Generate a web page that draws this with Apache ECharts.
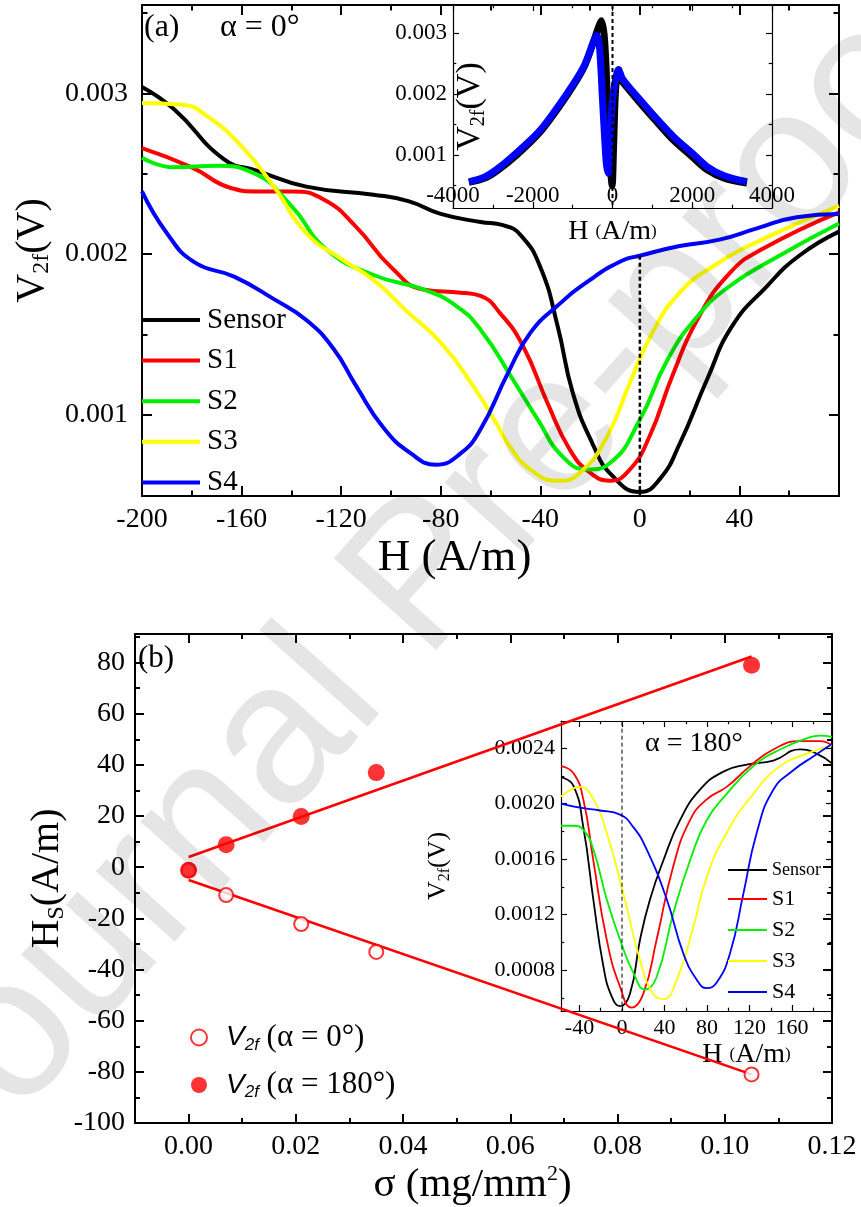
<!DOCTYPE html>
<html><head><meta charset="utf-8">
<script src="https://cdn.jsdelivr.net/npm/echarts@6/dist/echarts.min.js"></script>
<style>html,body{margin:0;padding:0;background:#fff}#c{width:861px;height:1207px}</style>
</head><body><div id="c"></div>
<script>
// ---------- Panel (a): alpha = 0 deg, V2f vs H (A/m) ----------
const sensorA = [[-200,0.00304],[-187,0.0029],[-167,0.00259],[-154,0.00252],[-134,0.00242],[-107,0.00237],[-93,0.00233],[-80,0.00225],[-64,0.0022],[-55,0.00218],[-48,0.00212],[-40,0.00192],[-33,0.00155],[-27,0.00114],[-19,0.00082],[-11,0.00062],[0,0.00052],[8,0.0006],[16,0.00082],[27,0.00122],[37,0.00155],[51,0.0018],[64,0.00199],[80,0.00214]];
const s1A = [[-200,0.00266],[-180,0.00254],[-164,0.00241],[-154,0.00239],[-140,0.00239],[-127,0.00234],[-114,0.00217],[-100,0.00192],[-87,0.00178],[-72,0.00176],[-64,0.00174],[-56,0.00163],[-47,0.00143],[-37,0.00107],[-28,0.00078],[-20,0.00064],[-12,0.00059],[-4,0.00066],[4,0.00087],[13,0.00124],[23,0.00159],[36,0.00188],[49,0.00203],[80,0.00226]];
const s2A = [[-200,0.0026],[-187,0.00254],[-170,0.00255],[-156,0.00251],[-140,0.0023],[-126,0.00203],[-107,0.00187],[-87,0.00178],[-74,0.00168],[-64,0.00153],[-51,0.00122],[-41,0.00097],[-31,0.00074],[-21,0.00066],[-12,0.0007],[0,0.00097],[11,0.00134],[23,0.00161],[36,0.0018],[56,0.00199],[80,0.00219]];
const s3A = [[-200,0.00294],[-184,0.00293],[-174,0.00286],[-160,0.00267],[-147,0.00242],[-134,0.00213],[-120,0.00197],[-107,0.00184],[-94,0.00165],[-80,0.00145],[-67,0.00118],[-57,0.00093],[-53,0.00082],[-44,0.00066],[-33,0.00059],[-24,0.00064],[-13,0.00087],[-4,0.0012],[5,0.00151],[16,0.00176],[29,0.00192],[49,0.00209],[80,0.0023]];
const s4A = [[-200,0.00239],[-190,0.00213],[-179,0.00195],[-163,0.00186],[-147,0.00172],[-134,0.00159],[-123,0.00141],[-114,0.00118],[-103,0.00092],[-92,0.00076],[-82,0.00069],[-72,0.00076],[-64,0.00091],[-53,0.00126],[-44,0.00151],[-33,0.00168],[-20,0.00184],[-7,0.00196],[0,0.00199],[16,0.00205],[32,0.00209],[47,0.00216],[63,0.00223],[80,0.00225]];
const zeroLineA = [[0,0.00199],[0,0.0005]];
// inset of (a): wide field range
const sensorWide = [[-3600,0.00055],[-3200,0.00062],[-2870,0.00075],[-2400,0.001],[-1810,0.00138],[-1140,0.00198],[-720,0.00243],[-480,0.00285],[-350,0.0031],[-280,0.0032],[-200,0.0029],[-120,0.0018],[-50,0.0008],[-10,0.0005],[30,0.0012],[80,0.0021],[150,0.0023],[250,0.0022],[697,0.00185],[1100,0.00155],[1531,0.00124],[2000,0.00097],[2368,0.00076],[2800,0.00062],[3370,0.00054]];
const s4Wide = [[-3600,0.00056],[-3200,0.00064],[-2870,0.00078],[-2400,0.00104],[-1810,0.00141],[-1140,0.00201],[-720,0.00245],[-480,0.00285],[-400,0.00296],[-330,0.0028],[-250,0.0019],[-160,0.0009],[-110,0.0007],[-60,0.0013],[0,0.0019],[80,0.00225],[150,0.0024],[250,0.00225],[697,0.0019],[1100,0.0016],[1531,0.0013],[2000,0.00103],[2368,0.00081],[2800,0.00066],[3370,0.00056]];
const zeroLineWide = [[0,0.00346],[0,0.00013]];

// ---------- Panel (b): Hs vs sigma ----------
const sigma = [0, 0.007, 0.021, 0.035, 0.105];
const hs0 = [-1.2, -10.9, -22.2, -33.1, -81];
const hs180 = [-1.2, 8.8, 19.8, 37, 79];
const fit0 = [[0,-5],[0.105,-81]];
const fit180 = [[0,4],[0.105,82.4]];
// inset of (b): alpha = 180 deg
const sensorB = [[-57.4,0.00219],[-45.8,0.00213],[-36.4,0.00183],[-27,0.00131],[-17.6,0.00083],[-9.7,0.00061],[-1.9,0.00054],[7.5,0.00063],[17,0.00102],[26.4,0.00131],[38.9,0.00159],[54.6,0.00188],[73.4,0.0021],[95.4,0.00223],[117.3,0.00228],[142.4,0.00231],[167.5,0.00239],[183,0.00236],[197.5,0.00229]];
const s1B = [[-57.4,0.00227],[-45.8,0.00222],[-36.4,0.00203],[-27,0.00159],[-14.4,0.00102],[-1.9,0.00068],[9.1,0.00053],[20.1,0.00063],[32.6,0.00102],[48.3,0.00155],[64,0.00188],[79.7,0.00203],[98.5,0.00212],[120.5,0.00227],[142.4,0.00239],[167.5,0.00245],[186.3,0.00245],[197.5,0.00242]];
const s2B = [[-57.4,0.00184],[-45.8,0.00184],[-36.4,0.00181],[-27,0.00167],[-14.4,0.00131],[-1.9,0.00102],[10.7,0.00078],[21.6,0.00066],[32.6,0.00075],[48.3,0.00121],[64,0.00159],[79.7,0.00188],[98.5,0.00207],[123.6,0.00227],[148.7,0.00239],[173.8,0.00247],[186.3,0.00249],[197.5,0.00248]];
const s3B = [[-57.4,0.00205],[-39.5,0.00212],[-27,0.00203],[-14.4,0.00179],[1.3,0.00135],[17,0.00087],[29.2,0.00063],[38.9,0.00059],[51.5,0.00073],[67.1,0.00111],[79.7,0.00147],[98.5,0.00179],[123.6,0.00207],[148.7,0.00227],[173.8,0.00236],[197.5,0.00242]];
const s4B = [[-57.4,0.002],[-39.5,0.00197],[-20.7,0.00195],[-1.9,0.00192],[10.7,0.00183],[23.2,0.00167],[42.1,0.00131],[57.7,0.00092],[70.3,0.00073],[79.7,0.00067],[89.1,0.00071],[101.6,0.00092],[114.2,0.00135],[126.8,0.00179],[142.4,0.0021],[161.2,0.00224],[180,0.00234],[197.5,0.00243]];
const zeroLineB = [[0,0.00259],[0,0.000505]];

// ---------- tick values ----------
const ticksAxMajor = [-200,-160,-120,-80,-40,0,40];
const ticksAxMinor = [-180,-140,-100,-60,-20,20,60];
const ticksAyMajor = [0.001,0.002,0.003];
const ticksAyMinor = [0.0015,0.0025,0.0035];
const ticksWxMajor = [-4000,-2000,0,2000,4000];
const ticksWxMinor = [-3000,-1000,1000,3000];
const ticksWyMajor = [0.001,0.002,0.003];
const ticksWyMinor = [0.0005,0.0015,0.0025];
const ticksBxMajor = [0,0.02,0.04,0.06,0.08,0.10,0.12];
const ticksBxMinor = [-0.01,0.01,0.03,0.05,0.07,0.09,0.11];
const ticksByMajor = [-100,-80,-60,-40,-20,0,20,40,60,80];
const ticksByMinor = [-90,-70,-50,-30,-10,10,30,50,70,90];
const ticksIxMajor = [-40,0,40,80,120,160];
const ticksIxMinor = [-20,20,60,100,140,180];
const ticksIyMajor = [0.0008,0.0012,0.0016,0.0020,0.0024];
const ticksIyMinor = [0.0006,0.0010,0.0014,0.0018,0.0022];

const SERIF = 'Liberation Serif';
const SANS = 'Liberation Sans';

function mkAxes(dim, g, min, max, majors, minors, o) {
  const pos = dim === 'x' ? ['bottom','top'] : ['left','right'];
  const base = {type:'value', gridIndex:g, min:min, max:max, scale:true,
    splitLine:{show:false}, axisLine:{show:false, onZero:false}, axisTick:{show:false}, axisLabel:{show:false}};
  const line = {show:true, onZero:false, lineStyle:{color:'#000', width:o.lw}};
  const tk = (vals, len) => ({show:true, inside:true, length:len, customValues:vals, lineStyle:{color:'#000', width:o.tw}});
  const main = Object.assign({}, base, {position:pos[0], axisLine:line, axisTick:tk(majors,o.tl),
    axisLabel:{show:true, customValues:majors, formatter:o.fmt, fontFamily:SERIF, fontSize:o.fs, color:'#000', margin:o.margin, inside:!!o.inside}});
  if (o.name) Object.assign(main, {name:o.name, nameLocation:'middle', nameGap:o.nameGap, nameMoveOverlap:false, nameTextStyle:o.nameStyle});
  return [
    main,
    Object.assign({}, base, {position:pos[0], axisTick:tk(minors,o.tl*0.55)}),
    Object.assign({}, base, {position:pos[1], axisLine:line, axisTick:tk(majors,o.tl)}),
    Object.assign({}, base, {position:pos[1], axisTick:tk(minors,o.tl*0.55)})
  ];
}

const subRich = (big, small) => ({
  v:{fontFamily:SERIF, fontSize:big, lineHeight:big+4, color:'#000', verticalAlign:'middle'},
  s:{fontFamily:SERIF, fontSize:small, lineHeight:small, color:'#000', verticalAlign:'bottom'},
  p:{fontFamily:SERIF, fontSize:Math.round(big*0.6), lineHeight:Math.round(big*0.6), color:'#000', verticalAlign:'middle'},
  u:{fontFamily:SERIF, fontSize:small, lineHeight:big+4, color:'#000', verticalAlign:'top'}
});

const xAxes = [].concat(
  mkAxes('x',0,-200,80,ticksAxMajor,ticksAxMinor,{lw:2,tw:2,tl:10,fs:28,margin:10,fmt:v=>String(v),
    name:'H (A/m)', nameGap:40, nameStyle:{fontFamily:SERIF, fontSize:45, color:'#000', padding:[0,72,0,0]}}),
  mkAxes('x',1,-4000,4000,ticksWxMajor,ticksWxMinor,{lw:1.2,tw:1.2,tl:6,fs:23,margin:1,inside:true,fmt:v=>String(v),
    name:'{v|H }{p|(}{v|A/m}{p|)}', nameGap:8, nameStyle:{rich:subRich(28,17)}}),
  mkAxes('x',2,-0.01,0.12,ticksBxMajor,ticksBxMinor,{lw:2,tw:2,tl:9,fs:28,margin:10,fmt:v=>v.toFixed(2),
    name:'{v|σ (mg/mm}{u|2}{v|)}', nameGap:40, nameStyle:{rich:subRich(41,22), padding:[0,22,0,0]}}),
  mkAxes('x',3,-57.4,197.6,ticksIxMajor,ticksIxMinor,{lw:1.2,tw:1.2,tl:6,fs:22,margin:6,fmt:v=>String(v),
    name:'{v|H }{p|(}{v|A/m}{p|)}', nameGap:28, nameStyle:{rich:subRich(28,17), padding:[0,0,0,100]}})
);
const yAxes = [].concat(
  mkAxes('y',0,0.000495,0.00355,ticksAyMajor,ticksAyMinor,{lw:2,tw:2,tl:10,fs:28,margin:14,fmt:v=>v.toFixed(3),
    name:'{v|V}{s|2f}{v|(V)}', nameGap:88, nameStyle:{rich:subRich(40,24)}}),
  mkAxes('y',1,0.00013,0.00346,ticksWyMajor,ticksWyMinor,{lw:1.2,tw:1.2,tl:6,fs:23,margin:6,fmt:v=>v.toFixed(3),
    name:'{v|V}{s|2f}{v|(V)}', nameGap:-36, nameStyle:{rich:subRich(34,20)}}),
  mkAxes('y',2,-100,91.2,ticksByMajor,ticksByMinor,{lw:2,tw:2,tl:9,fs:28,margin:10,fmt:v=>String(v),
    name:'{v|H}{s|S}{v|(A/m)}', nameGap:66, nameStyle:{rich:subRich(40,24)}}),
  mkAxes('y',3,0.000505,0.002595,ticksIyMajor,ticksIyMinor,{lw:1.2,tw:1.2,tl:6,fs:22,margin:6,fmt:v=>v.toFixed(4),
    name:'{v|V}{s|2f}{v|(V)}', nameGap:108, nameStyle:{rich:subRich(26,16)}})
);

function lineS(name, data, g, color, width, extra) {
  return Object.assign({type:'line', name:name, data:data, xAxisIndex:4*g, yAxisIndex:4*g,
    showSymbol:false, symbol:'none', smooth:0.5,
    lineStyle:{color:color, width:width}, itemStyle:{color:color}, z:3}, extra||{});
}
const dashS = (data, g, w) => ({type:'line', data:data, xAxisIndex:4*g, yAxisIndex:4*g, symbol:'none',
  lineStyle:{color:'#000', width:w, type:[4,3]}, silent:true, z:4});

const zip = (xs, ys) => xs.map((x,i)=>[x, ys[i]]);

const series = [
  lineS('Sensor', sensorA, 0, '#000000', 4),
  lineS('S1', s1A, 0, '#ff0000', 4),
  lineS('S2', s2A, 0, '#00ee00', 4),
  lineS('S3', s3A, 0, '#ffff00', 4),
  lineS('S4', s4A, 0, '#0000ff', 4),
  dashS(zeroLineA, 0, 2.5),
  lineS('Sensor wide', sensorWide, 1, '#000000', 7, {smooth:0.3}),
  lineS('S4 wide', s4Wide, 1, '#0000ff', 7, {smooth:0.3}),
  dashS(zeroLineWide, 1, 2),
  {type:'line', name:'fit0', data:fit0, xAxisIndex:8, yAxisIndex:8, symbol:'none', lineStyle:{color:'#ff0000', width:2.5}, z:3},
  {type:'line', name:'fit180', data:fit180, xAxisIndex:8, yAxisIndex:8, symbol:'none', lineStyle:{color:'#ff0000', width:2.5}, z:3},
  {type:'scatter', name:'V2f (α = 0°)', data:zip(sigma, hs0), xAxisIndex:8, yAxisIndex:8, symbol:'emptyCircle', symbolSize:14,
    itemStyle:{color:'#ff0000', borderColor:'#ff0000', borderWidth:1.3}, z:4},
  {type:'scatter', name:'V2f (α = 180°)', data:zip(sigma, hs180), xAxisIndex:8, yAxisIndex:8, symbol:'circle', symbolSize:17,
    itemStyle:{color:'#ff0000'}, z:5},
  lineS('Sensor', sensorB, 3, '#000000', 1.8),
  lineS('S1', s1B, 3, '#ff0000', 1.8),
  lineS('S2', s2B, 3, '#00ee00', 1.8),
  lineS('S3', s3B, 3, '#ffff00', 1.8),
  lineS('S4', s4B, 3, '#0000ff', 1.8),
  dashS(zeroLineB, 3, 1)
];

const option = {
  backgroundColor:'#fff',
  animation:false,
  grid:[
    {left:142, top:5, width:697, height:491},
    {left:453, top:5, width:319, height:203},
    {left:135, top:634, width:697, height:493},
    {left:561, top:721, width:271, height:290}
  ],
  xAxis: xAxes,
  yAxis: yAxes,
  legend:[
    {data:['Sensor','S1','S2','S3','S4'], orient:'vertical', left:142, top:305, padding:0, itemGap:10.6,
      icon:'rect', itemWidth:58, itemHeight:4, selectedMode:false,
      textStyle:{fontFamily:SERIF, fontSize:29, lineHeight:30, color:'#000', padding:[0,0,0,2]}},
    {data:['V2f (α = 0°)','V2f (α = 180°)'], orient:'vertical', left:190, top:1022, padding:0, itemGap:16,
      itemWidth:16, itemHeight:16, selectedMode:false,
      formatter: n => '{v|V}{s|2f}{t| ' + n.slice(4) + '}',
      textStyle:{color:'#000', padding:[0,0,0,14], rich:{
        v:{fontFamily:SANS, fontStyle:'italic', fontSize:28, lineHeight:32, verticalAlign:'middle', color:'#000'},
        s:{fontFamily:SANS, fontStyle:'italic', fontSize:17, lineHeight:16, verticalAlign:'bottom', color:'#000'},
        t:{fontFamily:SERIF, fontSize:31, lineHeight:32, verticalAlign:'middle', color:'#000'}}}},
    {data:['Sensor','S1','S2','S3','S4'], orient:'vertical', left:728, top:861, padding:0, itemGap:9,
      icon:'rect', itemWidth:39, itemHeight:2, selectedMode:false,
      formatter: n => n === 'Sensor' ? '{a|Sensor}' : '{b|' + n + '}',
      textStyle:{color:'#000', padding:[0,0,0,0], rich:{
        a:{fontFamily:SERIF, fontSize:18, lineHeight:22, color:'#000'},
        b:{fontFamily:SERIF, fontSize:22, lineHeight:22, color:'#000'}}}}
  ],
  graphic:[
    {type:'text', left:144, top:12, style:{text:'(a)', font:'32px "Liberation Serif"', fill:'#000'}},
    {type:'text', left:220, top:12, style:{text:'α = 0°', font:'32px "Liberation Serif"', fill:'#000'}},
    {type:'text', left:138, top:643, style:{text:'(b)', font:'31px "Liberation Serif"', fill:'#000'}},
    {type:'text', left:645, top:730, style:{text:'α = 180°', font:'28px "Liberation Serif"', fill:'#000'}},
    {type:'text', x:425, y:580, rotation:0.84, z:100,
      style:{text:'Journal Pre-proof', font:'200px "Liberation Sans"', fill:'rgba(0,0,0,0.1)', align:'center', verticalAlign:'middle'}}
  ],
  series: series
};
const chart = echarts.init(document.getElementById('c'), null, {renderer:'canvas'});
chart.setOption(option);
</script></body></html>
